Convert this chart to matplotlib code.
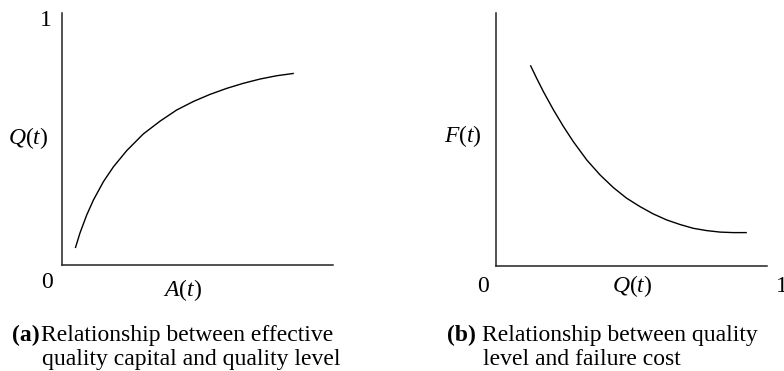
import matplotlib
matplotlib.use("Agg")
import matplotlib.pyplot as plt

plt.rcParams['font.family'] = ['Liberation Serif', 'DejaVu Serif']
plt.rcParams['mathtext.fontset'] = 'custom'
plt.rcParams['mathtext.rm'] = 'Liberation Serif'
plt.rcParams['mathtext.it'] = 'Liberation Serif:italic'

# Panel (a): effective quality capital A(t) vs quality level Q(t)
a_x = [0.050, 0.066, 0.091, 0.116, 0.153, 0.190, 0.239, 0.300, 0.362, 0.423,
       0.485, 0.546, 0.608, 0.669, 0.731, 0.792, 0.853]
a_y = [0.070, 0.126, 0.198, 0.258, 0.331, 0.390, 0.454, 0.520, 0.571, 0.615,
       0.649, 0.677, 0.701, 0.721, 0.738, 0.751, 0.760]

# Panel (b): quality level Q(t) vs failure cost F(t)
b_x = [0.128, 0.150, 0.175, 0.212, 0.249, 0.285, 0.335, 0.384, 0.433, 0.482,
       0.531, 0.580, 0.630, 0.679, 0.728, 0.777, 0.827, 0.876, 0.923]
b_y = [0.791, 0.742, 0.689, 0.617, 0.551, 0.492, 0.419, 0.360, 0.310, 0.268,
       0.235, 0.206, 0.182, 0.164, 0.149, 0.140, 0.134, 0.132, 0.132]

W, H = 784, 371
fig = plt.figure(figsize=(W / 100, H / 100), dpi=100)

def px(x, y):
    return x / W, 1 - y / H

def make_axes(x0, x1, ytop, ybot):
    ax = fig.add_axes([x0 / W, 1 - ybot / H, (x1 - x0) / W, (ybot - ytop) / H])
    ax.set_xlim(0, 1)
    ax.set_ylim(0, 1)
    for s in ['top', 'right']:
        ax.spines[s].set_visible(False)
    for s in ['left', 'bottom']:
        ax.spines[s].set_linewidth(1.1)
        ax.spines[s].set_color('#222222')
    ax.set_xticks([])
    ax.set_yticks([])
    ax.patch.set_alpha(0)
    return ax

ax1 = make_axes(62, 333, 13, 265)
ax1.plot(a_x, a_y, color='black', lw=1.0)

ax2 = make_axes(496, 767, 13, 266)
ax2.plot(b_x, b_y, color='black', lw=1.0)

fs = 17
def t(x, y, s, ha='center', va='center', **kw):
    fig.text(*px(x, y), s, ha=ha, va=va, fontsize=fs, **kw)

# Panel (a) labels
t(46, 20, '1')
t(47, 283, '0')
t(28, 138, '$Q(t)$')
t(183, 290, '$A(t)$')
# Panel (b) labels
t(463, 136, '$F(t)$')
t(483, 286, '0')
t(632, 286, '$Q(t)$')
t(776, 286, '1', ha='left')

# captions
t(12, 341, '(a)', ha='left', va='baseline', fontweight='bold')
t(41, 341, 'Relationship between effective', ha='left', va='baseline')
t(42, 365, 'quality capital and quality level', ha='left', va='baseline')
t(447, 341, '(b)', ha='left', va='baseline', fontweight='bold')
t(482, 341, 'Relationship between quality', ha='left', va='baseline')
t(483, 365, 'level and failure cost', ha='left', va='baseline')

fig.savefig('out.png', dpi=100)
